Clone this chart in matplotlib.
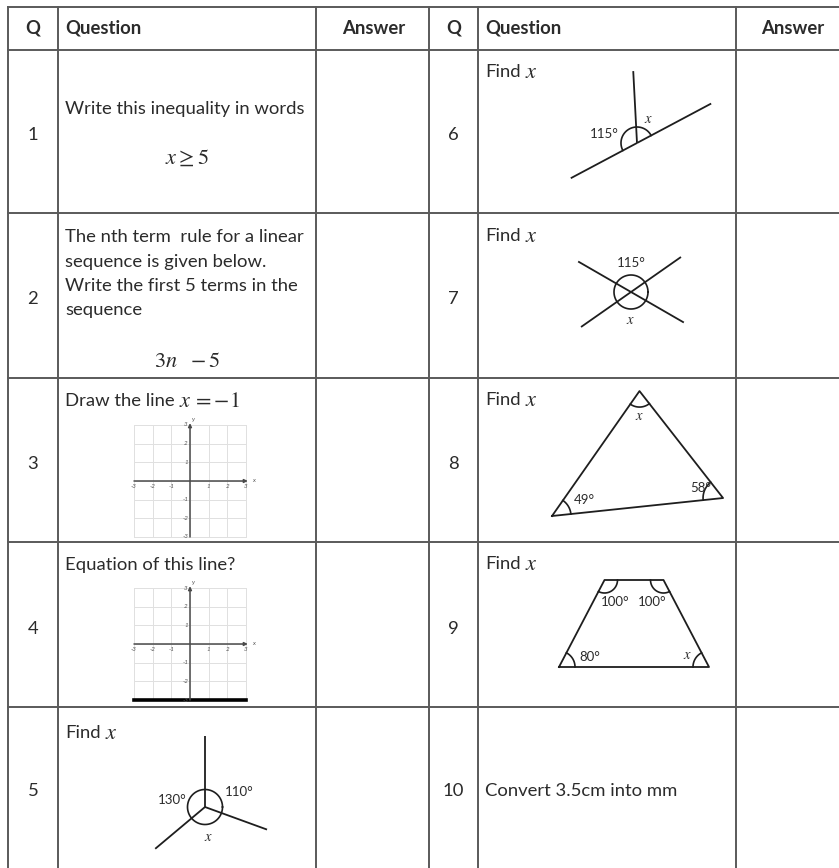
import numpy as np
import matplotlib
matplotlib.use('Agg')
import matplotlib.pyplot as plt

plt.rcParams['font.family'] = ['Lato', 'DejaVu Sans']
plt.rcParams['mathtext.fontset'] = 'stix'

W, H = 839, 868

# table content
headers = ['Q', 'Question', 'Answer']
q_left = [1, 2, 3, 4, 5]
q_right = [6, 7, 8, 9, 10]
q1_text = 'Write this inequality in words'
q1_math = r'$x \geq 5$'
q2_lines = ['The nth term  rule for a linear', 'sequence is given below.',
            'Write the first 5 terms in the', 'sequence']
q2_math = r'$3n\ \ -5$'
q3_text = 'Draw the line'
q3_math = r'$x\,=-1$'
q4_text = 'Equation of this line?'
q4_line_y = -3
find_text = 'Find'
x_math = r'$x$'
q10_text = 'Convert 3.5cm into mm'
grid_ticks = [-3, -2, -1, 1, 2, 3]

# angle labels (degrees)
q5_angles = [130, 110]
q6_angle = 115
q7_angle = 115
q8_angles = [49, 58]
q9_angles = [100, 100, 80]

# layout in pixels
col_edges = [8, 58, 316, 429, 478, 736]
row_edges = [7, 50, 213, 378, 542, 707, 868]
LINE = '#5a5a5a'
INK = '#2b2b2b'
FS = 13.3
FS_HEAD = 13.3
FS_MATH = 16
FS_SMALL = 9.5

fig = plt.figure(figsize=(W / 100, H / 100), dpi=100)
ax = fig.add_axes([0, 0, 1, 1])
ax.set_xlim(0, W)
ax.set_ylim(H, 0)
ax.axis('off')


def txt(x, y, s, size=FS, ha='left', **kw):
    ax.text(x, y, s, fontsize=size, ha=ha, va='center', color=INK, **kw)


def find_x(x, y):
    txt(x, y, find_text)
    txt(x + 40, y, x_math, size=FS_MATH)


def pt(cx, cy, r, a):
    a = np.radians(a)
    return cx + r * np.cos(a), cy - r * np.sin(a)


def ray(cx, cy, r, a):
    x1, y1 = pt(cx, cy, r, a)
    ax.plot([cx, x1], [cy, y1], color='#1e1e1e', lw=1.3, solid_capstyle='butt')


def arc(cx, cy, r, a0, a1):
    t = np.radians(np.linspace(a0, a1, 80))
    ax.plot(cx + r * np.cos(t), cy - r * np.sin(t), color='#1e1e1e', lw=1.2)


# grid lines of the table
for x in col_edges:
    ax.plot([x, x], [row_edges[0], row_edges[-1]], color=LINE, lw=1.4)
for y in row_edges[:-1]:
    ax.plot([col_edges[0], W], [y, y], color=LINE, lw=1.4)

# headers
hy = (row_edges[0] + row_edges[1]) / 2
for off, ans_x in [(0, 374), (3, 793)]:
    c0, c1 = col_edges[off], col_edges[off + 1]
    txt((c0 + c1) / 2, hy, headers[0], size=FS_HEAD, ha='center', weight='bold')
    txt(c1 + 7, hy, headers[1], size=FS_HEAD, weight='bold')
    txt(ans_x, hy, headers[2], size=FS_HEAD, ha='center', weight='bold')

# question numbers
for i, (a, b) in enumerate(zip(q_left, q_right)):
    yc = (row_edges[i + 1] + row_edges[i + 2]) / 2 + 4
    txt((col_edges[0] + col_edges[1]) / 2, yc, str(a), ha='center')
    txt((col_edges[3] + col_edges[4]) / 2, yc, str(b), ha='center')

LX = col_edges[1] + 7
RX = col_edges[4] + 7

# Q1
txt(LX, 109, q1_text)
txt(187, 158, q1_math, size=FS_MATH, ha='center')

# Q2
for k, line in enumerate(q2_lines):
    txt(LX, 237 + k * 24.5, line)
txt(187, 361, q2_math, size=FS_MATH, ha='center')

# Q3 / Q4 text
txt(LX, 401, q3_text)
txt(179, 401, q3_math, size=FS_MATH)
txt(LX, 565, q4_text)


def coord_grid(top, line_y=None):
    g = fig.add_axes([134 / W, 1 - (top + 112) / H, 112 / W, 112 / H])
    g.set_xlim(-3, 3)
    g.set_ylim(-3, 3)
    g.axis('off')
    for v in range(-3, 4):
        g.plot([v, v], [-3, 3], color='#e0e0e0', lw=0.7, clip_on=False)
        g.plot([-3, 3], [v, v], color='#e0e0e0', lw=0.7, clip_on=False)
    g.annotate('', xy=(3.1, 0), xytext=(-3, 0), annotation_clip=False,
               arrowprops=dict(arrowstyle='-|>', lw=1.1, color='#4a4a4a',
                               mutation_scale=5, shrinkA=0, shrinkB=0))
    g.annotate('', xy=(0, 3.1), xytext=(0, -3), annotation_clip=False,
               arrowprops=dict(arrowstyle='-|>', lw=1.1, color='#4a4a4a',
                               mutation_scale=5, shrinkA=0, shrinkB=0))
    for v in grid_ticks:
        g.text(v, -0.28, str(v), fontsize=4.5, style='italic', ha='center',
               va='center', color='#555555')
        g.text(-0.22, v, str(v), fontsize=4.5, style='italic', ha='center',
               va='center', color='#555555')
    g.text(3.35, 0.05, 'x', fontsize=4.5, style='italic', va='center', color='#555555')
    g.text(0.12, 3.3, 'y', fontsize=4.5, style='italic', va='center', color='#555555')
    if line_y is not None:
        g.plot([-3, 3], [line_y, line_y], color='black', lw=2.6, clip_on=False)


coord_grid(425)
coord_grid(588, q4_line_y)

# Q5
find_x(LX, 733)
cx, cy = 205, 807
ray(cx, cy, 71, 90)
ray(cx, cy, 65, 90 + q5_angles[0])
ray(cx, cy, 66, 90 - q5_angles[1])
arc(cx, cy, 17.5, 0, 360)
txt(187, 800, '%d°' % q5_angles[0], size=FS_SMALL, ha='right')
txt(225, 792, '%d°' % q5_angles[1], size=FS_SMALL)
txt(208, 837, x_math, size=FS_SMALL + 1, ha='center')

# Q6
find_x(RX, 72)
px, py, tilt = 637, 143, 28
ray(px, py, 75, tilt + 180)
ray(px, py, 84, tilt)
ray(px, py, 72, tilt + 180 - q6_angle)
arc(px, py, 16, tilt, tilt + 180)
txt(619, 134, '%d°' % q6_angle, size=FS_SMALL, ha='right')
txt(648, 119, x_math, size=FS_SMALL + 1, ha='center')

# Q7
find_x(RX, 236)
cx, cy, a0 = 631, 292, 35
for a in [a0, a0 + 180, a0 + q7_angle, a0 + q7_angle + 180]:
    ray(cx, cy, 61, a)
arc(cx, cy, 17, 0, 360)
txt(631, 263, '%d°' % q7_angle, size=FS_SMALL, ha='center')
txt(630, 320, x_math, size=FS_SMALL + 1, ha='center')

# Q8 triangle from the given angles
find_x(RX, 400)
ax_, ay_, tilt, base = 552, 516, 6, 172
A = (ax_, ay_)
B = pt(ax_, ay_, base, tilt)
side = base * np.sin(np.radians(q8_angles[1])) / np.sin(np.radians(180 - sum(q8_angles)))
C = pt(ax_, ay_, side, tilt + q8_angles[0])
ax.plot([A[0], B[0], C[0], A[0]], [A[1], B[1], C[1], A[1]], color='#1e1e1e', lw=1.3)
arc(A[0], A[1], 19, tilt, tilt + q8_angles[0])
arc(B[0], B[1], 20, 180 + tilt - q8_angles[1], 180 + tilt)
arc(C[0], C[1], 16, tilt + q8_angles[0] + 180, 360 + tilt - q8_angles[1])
txt(A[0] + 22, A[1] - 16, '%d°' % q8_angles[0], size=FS_SMALL)
txt(B[0] - 12, B[1] - 10, '%d°' % q8_angles[1], size=FS_SMALL, ha='right')
txt(C[0], C[1] + 25, x_math, size=FS_SMALL + 1, ha='center')

# Q9 trapezium
find_x(RX, 564)
mx, by, bw, tw, th = 634, 667, 150, 59, 87
BL, BR = (mx - bw / 2, by), (mx + bw / 2, by)
TL, TR = (mx - tw / 2, by - th), (mx + tw / 2, by - th)
ax.plot([BL[0], BR[0], TR[0], TL[0], BL[0]], [BL[1], BR[1], TR[1], TL[1], BL[1]],
        color='#1e1e1e', lw=1.3)
ba = np.degrees(np.arctan2(th, (bw - tw) / 2))
arc(BL[0], BL[1], 16, 0, ba)
arc(BR[0], BR[1], 16, 180 - ba, 180)
arc(TL[0], TL[1], 13, 180 + ba, 360)
arc(TR[0], TR[1], 13, 180, 360 - ba)
txt(TL[0] - 4, TL[1] + 22, '%d°' % q9_angles[0], size=FS_SMALL)
txt(TL[0] + 33, TL[1] + 22, '%d°' % q9_angles[1], size=FS_SMALL)
txt(BL[0] + 20, BL[1] - 10, '%d°' % q9_angles[2], size=FS_SMALL)
txt(BR[0] - 22, BR[1] - 12, x_math, size=FS_SMALL + 1, ha='center')

# Q10
txt(RX, 791, q10_text)

fig.savefig('out.png', dpi=100, facecolor='white')
